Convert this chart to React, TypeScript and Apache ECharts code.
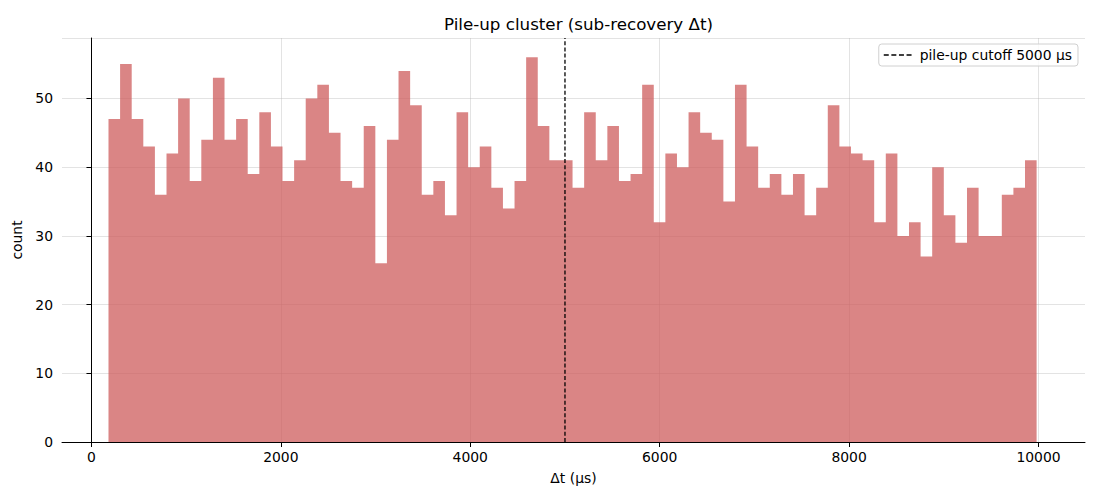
import React, { useEffect, useRef } from "react";
import * as echarts from "echarts";

const TITLE = "Pile-up cluster (sub-recovery Δt)";
const X_LABEL = "Δt (µs)";
const Y_LABEL = "count";
const LEGEND_LABEL = "pile-up cutoff 5000 µs";
const CUTOFF_US = 5000;
const BIN_START = 180;
const BIN_WIDTH = 122.5;
const COUNTS = [
  47, 55, 47, 43, 36, 42, 50, 38, 44, 53, 44, 47, 39, 48, 43, 38, 41, 50, 52, 45,
  38, 37, 46, 26, 44, 54, 49, 36, 38, 33, 48, 40, 43, 37, 34, 38, 56, 46, 41, 41,
  37, 48, 41, 46, 38, 39, 52, 32, 42, 40, 48, 45, 44, 35, 52, 43, 37, 39, 36, 39,
  33, 37, 49, 43, 42, 41, 32, 42, 30, 32, 27, 40, 33, 29, 37, 30, 30, 36, 37, 41,
];
const X_TICKS = [0, 2000, 4000, 6000, 8000, 10000];
const X_MIN = -311;
const X_MAX = 10491;
const Y_MAX = 58.8;

const FONT = "DejaVu Sans";
const BAR_COLOR = "rgba(205,92,92,0.75)";
const GRID_COLOR = "rgba(176,176,176,0.35)";
const DASH_ICON =
  "path://M0,0h5v1.6h-5z M7.6,0h5v1.6h-5z M15.2,0h5v1.6h-5z M22.8,0h5v1.6h-5z";

export default function App() {
  const ref = useRef<HTMLDivElement>(null);
  useEffect(() => {
    document.body.style.margin = "0";
    if (!ref.current) return;
    const chart = echarts.init(ref.current, undefined, { renderer: "svg" });
    const edges = COUNTS.map((_, i) => BIN_START + i * BIN_WIDTH).concat([
      BIN_START + COUNTS.length * BIN_WIDTH,
    ]);
    chart.setOption({
      animation: false,
      textStyle: { fontFamily: FONT },
      title: {
        text: TITLE,
        left: 573.5,
        top: 10,
        textAlign: "center",
        textStyle: { fontFamily: FONT, fontSize: 16.7, fontWeight: "normal", color: "#000" },
      },
      legend: {
        right: 22,
        top: 44,
        data: [{ name: LEGEND_LABEL, icon: DASH_ICON }],
        itemWidth: 28,
        itemHeight: 1.6,
        itemGap: 8,
        padding: [4, 6, 4, 5],
        borderColor: "#d0d0d0",
        borderWidth: 1,
        borderRadius: 3,
        backgroundColor: "rgba(255,255,255,0.8)",
        itemStyle: { color: "#000" },
        textStyle: { fontFamily: FONT, fontSize: 13.9, color: "#000", padding: [0, 0, 0, 3] },
      },
      grid: { left: 62, right: 15, top: 38, bottom: 58, containLabel: false },
      xAxis: {
        type: "value",
        min: X_MIN,
        max: X_MAX,
        name: X_LABEL,
        nameLocation: "middle",
        nameGap: 29,
        nameTextStyle: { fontFamily: FONT, fontSize: 13.9, color: "#000" },
        axisLine: { show: true, onZero: false, lineStyle: { color: "#000", width: 1 } },
        axisTick: { show: true, length: 5, lineStyle: { color: "#000" }, customValues: X_TICKS },
        axisLabel: {
          fontFamily: FONT,
          fontSize: 13.9,
          color: "#000",
          margin: 8,
          customValues: X_TICKS,
          formatter: (v: number) => String(v),
        },
        splitLine: { show: true, lineStyle: { color: GRID_COLOR, width: 1 } },
      },
      yAxis: {
        type: "value",
        min: 0,
        max: Y_MAX,
        interval: 10,
        name: Y_LABEL,
        nameLocation: "middle",
        nameGap: 31,
        nameTextStyle: { fontFamily: FONT, fontSize: 13.9, color: "#000" },
        axisLine: { show: true, lineStyle: { color: "#000", width: 1 } },
        axisTick: { show: true, length: 5, lineStyle: { color: "#000" } },
        axisLabel: { fontFamily: FONT, fontSize: 13.9, color: "#000", margin: 9, showMaxLabel: false },
        splitLine: { show: true, lineStyle: { color: GRID_COLOR, width: 1 } },
      },
      series: [
        {
          type: "custom",
          name: "counts",
          data: [[0]],
          silent: true,
          renderItem: (params: any, api: any) => {
            const pts: number[][] = [];
            pts.push(api.coord([edges[0], 0]));
            COUNTS.forEach((c, i) => {
              pts.push(api.coord([edges[i], c]));
              pts.push(api.coord([edges[i + 1], c]));
            });
            pts.push(api.coord([edges[edges.length - 1], 0]));
            return {
              type: "polygon",
              shape: { points: pts },
              style: { fill: BAR_COLOR },
            };
          },
          z: 2,
        },
        {
          type: "line",
          name: LEGEND_LABEL,
          data: [
            [CUTOFF_US, 0],
            [CUTOFF_US, Y_MAX],
          ],
          symbol: "none",
          lineStyle: { color: "#000", width: 1.3, type: [4, 2.2] },
          itemStyle: { color: "#000" },
          z: 5,
        },
      ],
    });
    return () => chart.dispose();
  }, []);
  return <div ref={ref} style={{ width: 1100, height: 500 }} />;
}
